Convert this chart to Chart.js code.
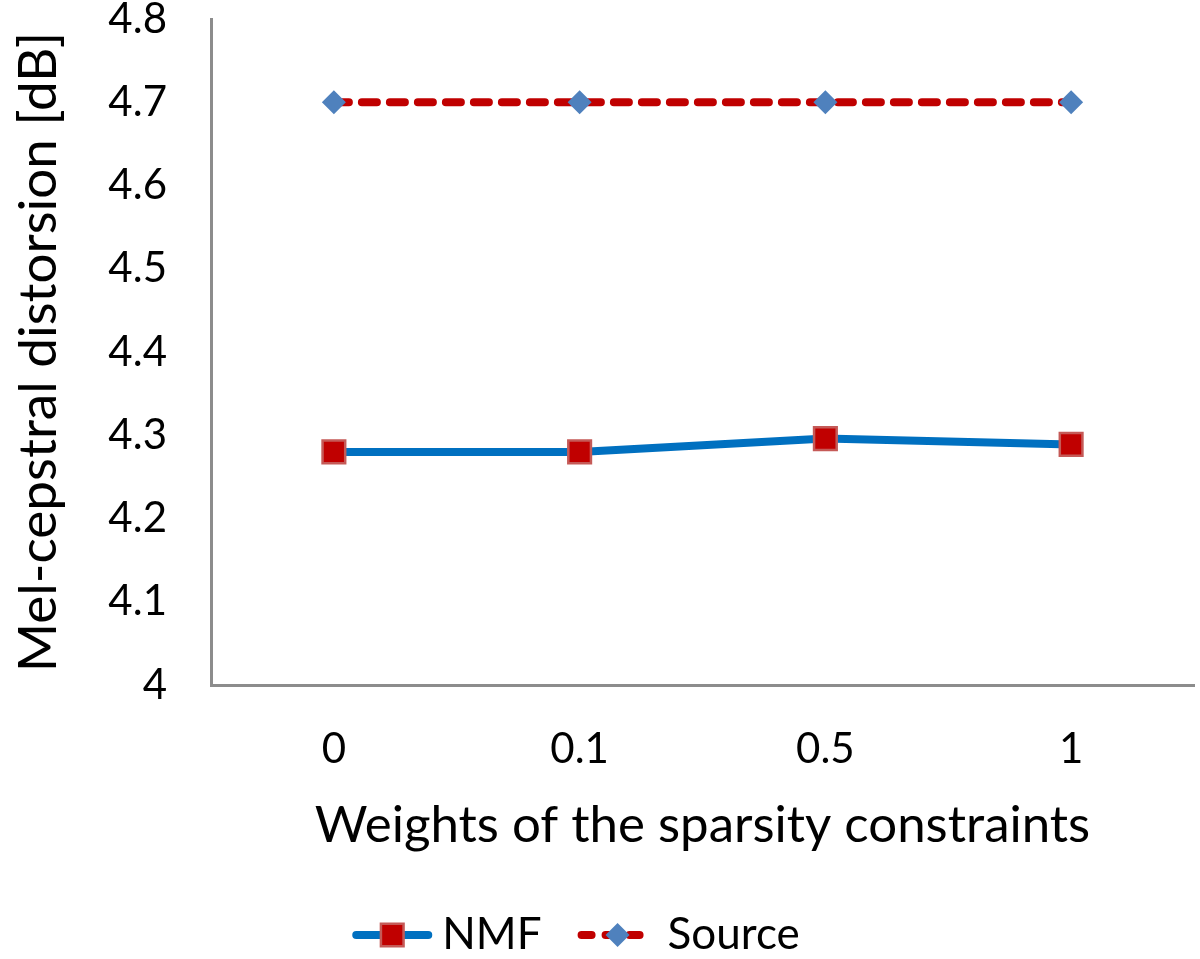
<!DOCTYPE html>
<html>
<head>
<meta charset="utf-8">
<script src="https://cdn.jsdelivr.net/npm/chart.js@4/dist/chart.umd.min.js"></script>
<style>
  html, body { margin: 0; padding: 0; background: #fff; }
  #wrap { width: 1200px; height: 959px; }
</style>
</head>
<body>
<div id="wrap"><canvas id="result"></canvas></div>
<script>
const weights = ['0', '0.1', '0.5', '1'];
const nmfValues = [4.28, 4.28, 4.296, 4.289];
const sourceValues = [4.70, 4.70, 4.70, 4.70];
const yTicks = [4, 4.1, 4.2, 4.3, 4.4, 4.5, 4.6, 4.7, 4.8];

const colors = {
    blue: '#0070C0',
    red: '#C00000',
    redEdge: '#C55A57',
    diamond: '#4F81BD',
    axis: '#8C8C8C'
};

const FONT = 'Lato, "Open Sans", sans-serif';

// legend drawn by hand: a line sample with the marker on it, then the label
const lineLegend = {
    id: 'lineLegend',
    afterDraw (chart) {
        let ctx = chart.ctx;
        let y = 935;
        ctx.save();
        ctx.font = '44px ' + FONT;
        ctx.textBaseline = 'middle';
        ctx.fillStyle = '#000';
        let items = chart.data.datasets.map(ds => ({ ds, w: ctx.measureText(ds.label).width }));
        let iconW = 80, gapText = 10, gapItem = 36;
        let total = items.reduce((s, it) => s + iconW + gapText + it.w, 0) + gapItem * (items.length - 1);
        let x = chart.width * 0.48 - total / 2;
        items.forEach(it => {
            let ds = it.ds;
            let cx = x + iconW / 2;
            ctx.lineWidth = ds.borderWidth;
            ctx.lineCap = 'round';
            ctx.strokeStyle = ds.borderColor;
            ctx.setLineDash(ds.borderDash ? [10, 14] : []);
            ctx.beginPath();
            ctx.moveTo(x + 4, y);
            ctx.lineTo(x + iconW - 4, y);
            ctx.stroke();
            ctx.setLineDash([]);
            ctx.fillStyle = ds.pointBackgroundColor;
            ctx.strokeStyle = ds.pointBorderColor;
            ctx.lineWidth = ds.pointBorderWidth;
            Chart.helpers.drawPoint(ctx, {
                pointStyle: ds.pointStyle,
                radius: ds.pointRadius,
                borderWidth: ds.pointBorderWidth,
                rotation: 0
            }, cx, y);
            ctx.fillStyle = '#000';
            ctx.fillText(ds.label, x + iconW + gapText, y);
            x += iconW + gapText + it.w + gapItem;
        });
        ctx.restore();
    }
};

let data = {
    labels: weights,
    datasets: [
        {
            label: 'NMF',
            data: nmfValues,
            borderColor: colors.blue,
            backgroundColor: colors.red,
            borderWidth: 8,
            tension: 0,
            pointStyle: 'rect',
            pointRadius: 16,
            pointHoverRadius: 16,
            pointBackgroundColor: colors.red,
            pointBorderColor: colors.redEdge,
            pointBorderWidth: 2.5
        },
        {
            label: 'Source',
            data: sourceValues,
            borderColor: colors.red,
            backgroundColor: colors.diamond,
            borderWidth: 8,
            borderDash: [15, 13],
            borderCapStyle: 'round',
            tension: 0,
            pointStyle: 'rectRot',
            pointRadius: 12,
            pointHoverRadius: 12,
            pointBackgroundColor: colors.diamond,
            pointBorderColor: colors.diamond,
            pointBorderWidth: 0
        }
    ]
};

var options = {
    responsive: true,
    maintainAspectRatio: false,
    animation: false,
    layout: { autoPadding: false, padding: { left: 0, right: 6, top: 19, bottom: 100 } },
    plugins: {
        tooltip: { enabled: false },
        legend: { display: false }
    },
    scales: {
        x: {
            offset: true,
            grid: { display: false, drawTicks: false },
            border: { color: colors.axis, width: 3 },
            ticks: { color: '#000', font: { family: FONT, size: 42 }, padding: 39 },
            title: {
                display: true,
                text: 'Weights of the sparsity constraints',
                color: '#000',
                font: { family: FONT, size: 51 },
                padding: { top: 0, bottom: 3 }
            },
            afterFit: function (scale) {
                scale.height = 174;
                scale.paddingLeft = 0;
                scale.paddingRight = 0;
            }
        },
        y: {
            min: 4,
            max: 4.8,
            grid: { display: false, drawTicks: false },
            border: { color: colors.axis, width: 3 },
            afterBuildTicks: function (scale) {
                scale.ticks = yTicks.map(v => ({ value: v }));
            },
            ticks: {
                color: '#000',
                font: { family: FONT, size: 42 },
                padding: 44,
                callback: function (v) { return v === 4 ? '4' : Number(v).toFixed(1); }
            },
            title: {
                display: true,
                text: 'Mel-cepstral distorsion [dB]',
                color: '#000',
                font: { family: FONT, size: 53 },
                padding: { top: 7, bottom: 0 }
            },
            afterFit: function (scale) {
                scale.width = 211;
                scale.paddingTop = 0;
                scale.paddingBottom = 0;
            }
        }
    }
};

function mountChart (data) {
    let ctx = document.getElementById('result').getContext('2d');
    let myChart = new Chart(ctx, {
        type: 'line',
        data,
        options,
        plugins: [lineLegend]
    });
}

mountChart(data);
</script>
</body>
</html>
